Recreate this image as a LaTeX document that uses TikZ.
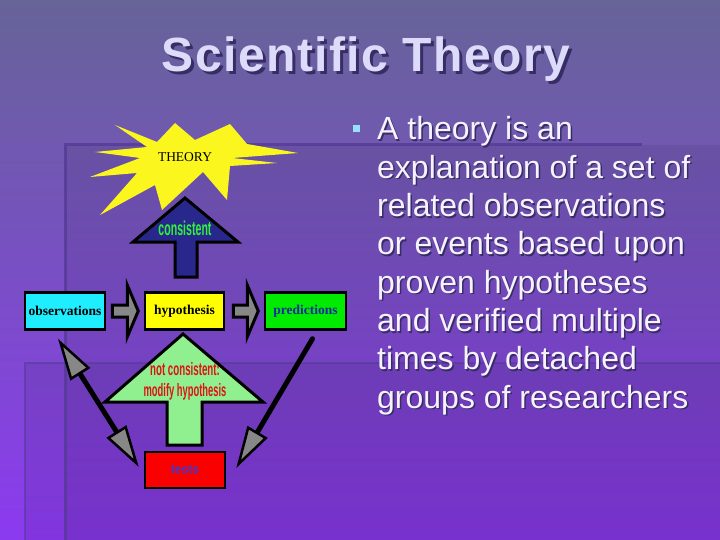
\documentclass[tikz,border=0pt]{standalone}
\usepackage{fontspec}
\setmainfont{Liberation Sans}
\newfontfamily\serifface{Liberation Serif}
\newfontfamily\titleface[LetterSpace=3]{Liberation Sans Bold}
\usetikzlibrary{arrows.meta,calc}
\definecolor{bgtop}{RGB}{102,100,152}
\definecolor{bgbot}{RGB}{140,58,240}
\definecolor{edgecol}{RGB}{84,58,150}
\definecolor{titlecol}{RGB}{220,220,250}
\definecolor{shadowcol}{RGB}{55,45,100}
\definecolor{textcol}{RGB}{246,242,255}
\definecolor{bulletcol}{RGB}{150,225,255}
\definecolor{starcol}{RGB}{250,246,30}
\definecolor{consblue}{RGB}{40,40,140}
\definecolor{consgreen}{RGB}{50,240,60}
\definecolor{lightgreen}{RGB}{144,240,144}
\definecolor{notred}{RGB}{220,20,20}
\definecolor{boxcyan}{RGB}{30,238,255}
\definecolor{boxyellow}{RGB}{255,255,0}
\definecolor{boxgreen}{RGB}{0,235,0}
\definecolor{boxred}{RGB}{250,0,0}
\definecolor{predblue}{RGB}{25,40,160}
\definecolor{testblue}{RGB}{50,60,220}
\definecolor{tipgray}{RGB}{135,135,135}
\begin{document}
\begin{tikzpicture}[x=1pt,y=-1pt,
  box/.style={draw=black,line width=2.5pt,inner sep=0pt,minimum height=37pt,
    font=\serifface\bfseries\fontsize{13.5}{13.5}\selectfont},
  blockarrow/.style={draw=black,line width=3pt,line join=miter},
  bullettext/.style={anchor=base west,inner sep=0pt,font=\fontsize{32}{38}\selectfont},
  condensed/.style={inner sep=0pt,font=\bfseries\fontsize{18}{18}\selectfont},
  connector/.style={draw=black,line width=5pt,line cap=round},
  bigtip/.style={-{Triangle[length=42pt,width=23pt,line width=2.5pt,fill=tipgray]}},
  bigtips/.style={{Triangle[length=42pt,width=23pt,line width=2.5pt,fill=tipgray]}-{Triangle[length=42pt,width=23pt,line width=2.5pt,fill=tipgray]}}
]
% background
\shade[top color=bgtop,bottom color=bgbot] (0,0) rectangle (720,540);
\useasboundingbox (0,0) rectangle (720,540);
\fill[black,opacity=0.07] (65,145) rectangle (720,540);
\fill[black,opacity=0.07] (25,363) rectangle (720,540);
\draw[edgecol,line width=3pt,opacity=0.8] (65,540) -- (65,145) -- (642,145);
\draw[edgecol,line width=2.5pt,opacity=0.6] (25,540) -- (25,363) -- (720,363);

% title
\node[anchor=base,inner sep=0pt,text=shadowcol,font=\titleface\fontsize{48}{48}\selectfont] (titleshadow) at (369,75) {Scientific Theory};
\node[anchor=base,inner sep=0pt,text=titlecol,font=\titleface\fontsize{48}{48}\selectfont] (title) at (366,72) {Scientific Theory};

% bullet
\fill[bulletcol] (353,125) rectangle (360,132);
\foreach \t [count=\i] in {A theory is an,explanation of a set of,related observations,or events based upon,proven hypotheses,and verified multiple,times by detached,groups of researchers}{
  \node[bullettext,text=shadowcol] (ls\i) at (378.5,{141.5+38.33*(\i-1)}) {\t};
  \node[bullettext,text=textcol] (l\i) at (377,{140+38.33*(\i-1)}) {\t};
}

% starburst
\fill[starcol] (175,123) -- (195,140) -- (230,124) -- (247,144) -- (298,153) -- (232,158)
  -- (277,163) -- (230,166) -- (227,200) -- (203,172) -- (162,210) -- (155,185)
  -- (100,215) -- (137,173) -- (90,177) -- (140,158) -- (95,152) -- (147,147)
  -- (115,125) -- (157,142) -- cycle;
\node[inner sep=0pt,font=\serifface\fontsize{13.5}{13.5}\selectfont] (theory) at (185,157) {THEORY};

% consistent arrow
\draw[blockarrow,fill=consblue] (175,277) -- (175,242) -- (133,242) -- (185,198) -- (238,242) -- (197,242) -- (197,277) -- cycle;
\node[condensed,text=consgreen] (cons) at (185,228) {\scalebox{0.53}[1]{\fontsize{20}{20}\selectfont consistent}};

% boxes
\node[box,fill=boxcyan,minimum width=80pt] (obs) at (65,311) {observations};
\node[box,fill=boxyellow,minimum width=79pt] (hyp) at (184.5,311) {hypothesis};
\node[box,fill=boxgreen,minimum width=81pt,text=predblue] (pred) at (305.5,311) {predictions};
\node[box,fill=boxred,minimum width=80pt,minimum height=36pt,font=\bfseries\fontsize{12}{12}\selectfont,text=testblue] (tests) at (185,470) {tests};

% small block arrows between boxes
\draw[blockarrow,fill=tipgray] ($(obs.east)+(6,-6)$) -- ++(15,0) -- ++(0,-20) -- ++(11,26) -- ++(-11,26) -- ++(0,-20) -- ++(-15,0) -- cycle;
\draw[blockarrow,fill=tipgray] ($(hyp.east)+(8,-6)$) -- ++(14,0) -- ++(0,-20) -- ++(11,26) -- ++(-11,26) -- ++(0,-20) -- ++(-14,0) -- cycle;

% not consistent arrow
\draw[blockarrow,fill=lightgreen] (167,445) -- (167,402) -- (105,402) -- (183,334) -- (263,402) -- (202,402) -- (202,445) -- cycle;
\node[condensed,text=notred] (notc) at (185,369) {\scalebox{0.54}[1]{not consistent:}};
\node[condensed,text=notred] (modh) at (185,392) {\scalebox{0.52}[1]{modify hypothesis}};

% connectors
\draw[connector,bigtips] ($(obs.south)+(-7,8)$) -- ($(tests.west)+(-5,-3)$);
\draw[connector,bigtip] ($(pred.south)+(7,8)$) -- ($(tests.east)+(10,-2)$);
\end{tikzpicture}
\end{document}
